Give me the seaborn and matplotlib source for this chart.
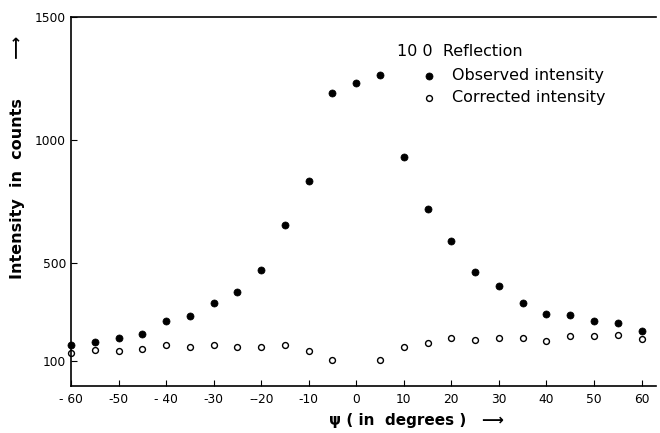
import numpy as np
import pandas as pd
import seaborn as sns
import matplotlib.pyplot as plt

# psi angles (degrees)
psi = [-60, -55, -50, -45, -40, -35, -30, -25, -20, -15, -10, -5, 0, 5,
       10, 15, 20, 25, 30, 35, 40, 45, 50, 55, 60]
observed = [164, 179, 195, 212, 265, 282, 338, 381, 472, 653, 832, 1190, 1230, 1262,
            930, 720, 589, 461, 404, 338, 291, 289, 264, 254, 223]

psi_corr = [-60, -55, -50, -45, -40, -35, -30, -25, -20, -15, -10, -5, 5,
            10, 15, 20, 25, 30, 35, 40, 45, 50, 55, 60]
corrected = [134, 145, 143, 150, 164, 158, 164, 156, 157, 164, 143, 104, 104,
             156, 173, 196, 187, 193, 193, 181, 203, 201, 207, 192]

xticks = list(range(-60, 61, 10))
xticklabels = ["- 60", "-50", "- 40", "-30", "--20", "-10", "0", "10", "20", "30", "40", "50", "60"]
yticks = [100, 500, 1000, 1500]

obs_df = pd.DataFrame({"psi": psi, "intensity": observed})
corr_df = pd.DataFrame({"psi": psi_corr, "intensity": corrected})

sns.set_style("ticks")
plt.rcParams['font.family'] = ['DejaVu Sans']
plt.rcParams['text.color'] = 'black'
plt.rcParams['axes.labelcolor'] = 'black'

fig = plt.figure(figsize=(6.6, 4.33), dpi=100)
ax = fig.add_axes([0.1076, 0.109, 0.886, 0.852])

sns.scatterplot(data=obs_df, x="psi", y="intensity", ax=ax, color="black",
                s=26, edgecolor="black", linewidth=0.5, clip_on=False,
                label="Observed intensity")
sns.scatterplot(data=corr_df, x="psi", y="intensity", ax=ax, facecolor="white",
                edgecolor="black", s=18, linewidth=1.0, clip_on=False,
                label="Corrected intensity")

ax.set_xlim(-60, 63)
ax.set_ylim(0, 1500)
ax.set_xticks(xticks)
ax.set_xticklabels(xticklabels)
ax.set_yticks(yticks)
ax.tick_params(direction="in", length=4, width=0.8, labelsize=8.8, colors="black")
ax.tick_params(axis="x", pad=5)

for side in ["left", "bottom", "top"]:
    ax.spines[side].set_color("black")
    ax.spines[side].set_linewidth(1.2)
ax.spines["right"].set_visible(False)

ax.set_xlabel("\u03c8 ( in  degrees )   \u27f6", fontsize=11, fontweight="bold")
ax.xaxis.set_label_coords(0.59, -0.075)
ax.set_ylabel("Intensity  in  counts       \u27f6", fontsize=11.5, fontweight="bold")
ax.yaxis.set_label_coords(-0.078, 0.62)

ax.text(0.557, 0.905, "10 0  Reflection", transform=ax.transAxes, fontsize=11.5,
        va="center", ha="left")
leg = ax.legend(loc="upper left", bbox_to_anchor=(0.588, 0.878), frameon=False,
                fontsize=11.5, handletextpad=0.9, labelspacing=0.45,
                borderaxespad=0, handlelength=1.0)

fig.savefig("out.png", dpi=100)
